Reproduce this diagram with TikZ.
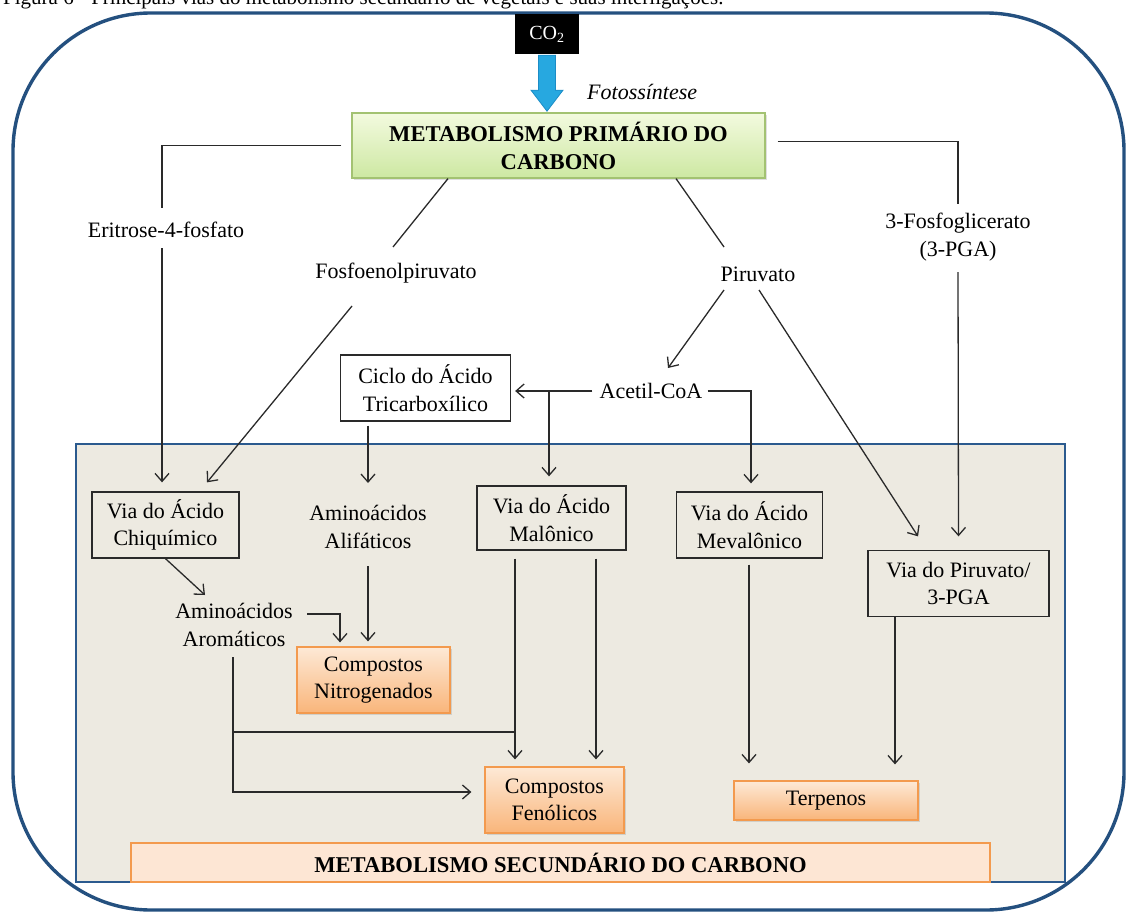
\documentclass[tikz,border=0pt]{standalone}
\usepackage{fontspec}
\setmainfont{Liberation Serif}
\usetikzlibrary{arrows.meta,calc,shadows}
\definecolor{outerblue}{HTML}{24507F}
\definecolor{innerblue}{HTML}{2B5A8E}
\definecolor{beige}{HTML}{EDEAE1}
\definecolor{linegray}{HTML}{2A2A2A}
\definecolor{greentop}{HTML}{F3FADF}
\definecolor{greenbot}{HTML}{CDE8A2}
\definecolor{greenedge}{HTML}{A3C272}
\definecolor{orangetop}{HTML}{FDE9D6}
\definecolor{orangebot}{HTML}{F9B57A}
\definecolor{orangeedge}{HTML}{F39A4E}
\definecolor{peach}{HTML}{FDE6D4}
\definecolor{arrowblue}{HTML}{27A8E0}
\definecolor{arrowedge}{HTML}{1C8CC6}
\begin{document}
\begin{tikzpicture}[x=1pt,y=-1pt,
  txt/.style={font=\fontsize{22}{27.5}\selectfont, text=black, align=center, inner sep=0pt},
  boldtxt/.style={font=\fontsize{22.6}{28}\selectfont\bfseries, text=black, align=center, inner sep=0pt},
  plainbox/.style={txt, draw=linegray, line width=1.3pt},
  orangebox/.style={txt, draw=orangeedge, line width=1.2pt, top color=orangetop, bottom color=orangebot,
     drop shadow={opacity=0.25, shadow xshift=1.5pt, shadow yshift=-1.5pt}},
  ln/.style={draw=linegray, line width=1.3pt},
  arr/.style={ln, -{Straight Barb[length=8pt,width=14pt]}}
]
\useasboundingbox (0,0) rectangle (1126,912);

% caption (cut at the top of the picture, as in the reference)
\node[anchor=base west, inner sep=0pt, font=\fontsize{21}{24}\selectfont] (cap) at (3,5)
  {Figura 6 - Principais vias do metabolismo secundário de vegetais e suas interligações.};

% outer frame
\draw[outerblue, line width=3.4pt, rounded corners=138pt] (13,13) rectangle (1124,910);

% secondary metabolism area
\draw[fill=beige, draw=innerblue, line width=1.8pt] (76,444) rectangle (1065,882);

% CO2 and primary metabolism
\node[txt, fill=black, text=white, minimum width=64pt, minimum height=40pt,
      font=\fontsize{20}{24}\selectfont] (co2) at (547,34) {CO\textsubscript{2}};
\node[boldtxt, draw=greenedge, line width=1.2pt, top color=greentop, bottom color=greenbot,
      minimum width=413pt, minimum height=65pt,
      drop shadow={opacity=0.25, shadow xshift=2pt, shadow yshift=-2pt}] (pri) at (558.5,145.5)
      {METABOLISMO PRIMÁRIO DO\\CARBONO};
\node[txt, anchor=west, font=\fontsize{22}{27.5}\selectfont\itshape] (foto) at (587,92) {Fotossíntese};

% block arrow CO2 -> primary
\filldraw[fill=arrowblue, draw=arrowedge, line width=0.8pt]
  ($(co2.south)+(-8.5,1)$) -- ($(co2.south)+(8.5,1)$) -- ($(co2.south)+(8.5,36)$)
  -- ($(co2.south)+(16,36)$) -- ($(co2.south)+(0,57)$) -- ($(co2.south)+(-16,36)$)
  -- ($(co2.south)+(-8.5,36)$) -- cycle;

% intermediate labels
\node[txt] (eri) at (166,230) {Eritrose-4-fosfato};
\node[txt] (fosfo) at (396,273) {Fosfoenolpiruvato};
\node[txt] (piru) at (758,274) {Piruvato};
\node[txt] (pga) at (958,237) {3-Fosfoglicerato\\(3-PGA)};
\node[txt] (acet) at (651,391) {Acetil-CoA};
\node[plainbox, fill=white, minimum width=170pt, minimum height=66pt] (ciclo) at (425.5,388)
  {Ciclo do Ácido\\Tricarboxílico};

% secondary pathways
\node[plainbox, minimum width=147pt, minimum height=66pt] (chiq) at (165.5,525) {Via do Ácido\\Chiquímico};
\node[txt] (alif) at (368,527) {Aminoácidos\\Alifáticos};
\node[plainbox, minimum width=149pt, minimum height=64pt] (malo) at (551.5,518) {Via do Ácido\\Malônico};
\node[plainbox, minimum width=146pt, minimum height=66pt] (meva) at (749.5,525) {Via do Ácido\\Mevalônico};
\node[plainbox, minimum width=181pt, minimum height=66pt] (pirv) at (958.5,583.5) {Via do Piruvato/\\3-PGA};
\node[txt] (arom) at (234,625) {Aminoácidos\\Aromáticos};

% products
\node[orangebox, minimum width=153pt, minimum height=66pt] (nitro) at (373.5,680) {Compostos\\Nitrogenados};
\node[orangebox, minimum width=139pt, minimum height=66pt] (feno) at (554.5,800) {Compostos\\Fenólicos};
\node[orangebox, minimum width=184pt, minimum height=39pt] (terp) at (826,800.5) {Terpenos};
\node[boldtxt, draw=orangeedge, line width=1.8pt, fill=peach, minimum width=859pt, minimum height=39pt]
  (sec) at (560.5,862.5) {METABOLISMO SECUNDÁRIO DO CARBONO};

% connectors from primary metabolism
\draw[ln, shorten <=10pt] (pri.west) -| ([xshift=-4pt,yshift=22pt]eri.center);
\draw[arr] ([xshift=-4pt,yshift=-18pt]eri.center) -- ([xshift=-3.5pt,yshift=9pt]chiq.north);

\draw[ln] ([xshift=-110.5pt]pri.south) -- ([xshift=-3pt,yshift=26pt]fosfo.center);
\draw[arr] ([xshift=-44pt,yshift=-33pt]fosfo.center) -- ([xshift=41.5pt,yshift=9pt]chiq.north);

\draw[ln] ([xshift=117.5pt]pri.south) -- ([xshift=-34pt,yshift=27pt]piru.center);
\draw[arr] ([xshift=-34pt,yshift=-16pt]piru.center) -- ([xshift=17pt,yshift=23pt]acet.center);
\draw[arr] ([xshift=1pt,yshift=-16pt]piru.center) -- ([xshift=-40.5pt,yshift=13.5pt]pirv.north);

\draw[ln, shorten <=12pt] ([yshift=4pt]pri.east) -| ([yshift=33pt]pga.center);
\draw[arr] ([yshift=-35pt]pga.center) -- ([yshift=13.5pt]pirv.north);

% acetyl-CoA connections
\coordinate (jA) at (549,391);
\draw[arr, shorten >=4pt] ([xshift=-7pt]acet.west) -- (ciclo.east |- acet.west);
\draw[arr] (jA) -- ([xshift=-2.5pt,yshift=9pt]malo.north);
\draw[arr] ([xshift=5pt]acet.east) -| ([xshift=1.5pt,yshift=8pt]meva.north);

% cycle -> aliphatic amino acids -> nitrogen compounds
\draw[arr] ([xshift=-57.5pt,yshift=-4pt]ciclo.south) -- ([yshift=44pt]alif.center);
\draw[arr] ([yshift=-39pt]alif.center) -- ([xshift=-5.5pt,yshift=5pt]nitro.north);

% shikimic -> aromatic amino acids
\draw[arr] (chiq.south) -- ([xshift=-29pt,yshift=30pt]arom.center);
\draw[arr] ([xshift=14.5pt,yshift=11pt]arom.east) -| ([xshift=-33.5pt,yshift=4pt]nitro.north);
\draw[arr] ([xshift=-1pt,yshift=-32pt]arom.center) |- ([xshift=-13pt,yshift=8pt]feno.west);

% malonic -> phenolics
\coordinate (jB) at (233,732);
\coordinate (jC) at (515,732);
\draw[ln] (jB) -- (jC);
\draw[arr] ([xshift=-36.5pt,yshift=-8pt]malo.south) -- ([xshift=-39.5pt,yshift=7pt]feno.north);
\draw[arr] ([xshift=44.5pt,yshift=-8pt]malo.south) -- ([xshift=41.5pt,yshift=7pt]feno.north);

% terpenes
\draw[arr] ([xshift=-0.5pt,yshift=-6pt]meva.south) -- ([xshift=-77pt,yshift=17pt]terp.north);
\draw[arr] ([xshift=-63.5pt]pirv.south) -- ([xshift=69pt,yshift=16pt]terp.north);
\end{tikzpicture}
\end{document}
